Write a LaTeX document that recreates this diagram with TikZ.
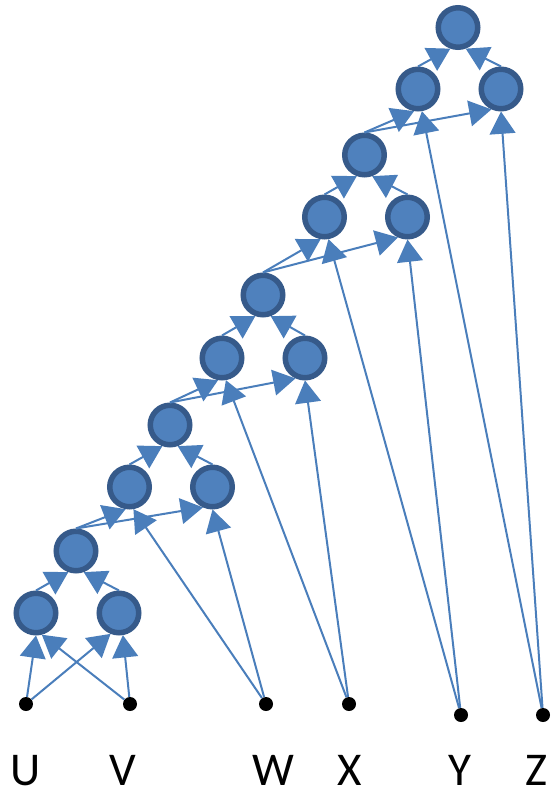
\documentclass[tikz,border=0pt]{standalone}
\usepackage{fontspec}
\setmainfont{Carlito}
\usepackage{xcolor}
\usepackage{tikz}
\usetikzlibrary{arrows.meta, positioning}

\definecolor{nodefill}{RGB}{79,129,189}
\definecolor{noderim}{RGB}{54,90,138}
\definecolor{edgeblue}{RGB}{74,126,187}

\begin{document}
\begin{tikzpicture}[
    x=1pt, y=-1pt,
    % ── Tree node: blue disc with a dark rim ─────────────────────────
    unit/.style={
        circle, draw=noderim, fill=nodefill,
        line width=5.5pt, minimum size=39.5pt, inner sep=0pt
    },
    % ── Input point: small black dot ─────────────────────────────────
    inpt/.style={circle, fill=black, minimum size=14pt, inner sep=0pt},
    % ── Input letters ────────────────────────────────────────────────
    letter/.style={anchor=base, inner sep=0pt,
                   font=\fontsize{47}{56}\selectfont},
    % ── Arrows: thin blue, filled triangle tip ───────────────────────
    link/.style={line width=2pt, draw=edgeblue,
                 -{Triangle[scale=2.6]}}
]
    \useasboundingbox (0,0) rectangle (550,794);

% ══════════════════════════════════════════════════════════════════════
% NODE PLACEMENT
% ══════════════════════════════════════════════════════════════════════

    % ── Inputs ──────────────────────────────────────────────────
    \node[inpt] (u) at (26,704) {};
    \node[inpt] (v) at (130,704) {};
    \node[inpt] (w) at (266,704) {};
    \node[inpt] (x) at (349,704) {};
    \node[inpt] (y) at (461,715) {};
    \node[inpt] (z) at (543,715) {};

    \node[letter] (lu) at (26,785)  {U};
    \node[letter] (lv) at (123,785) {V};
    \node[letter] (lw) at (273,785) {W};
    \node[letter] (lx) at (350,785) {X};
    \node[letter] (ly) at (460,785) {Y};
    \node[letter] (lz) at (536,785) {Z};

    % ── Group 1 ──
    \node[unit] (l1) at (36,613)    {};
    \node[unit] (r1) at (119,613)   {};
    \node[unit] (t1) at (76,551)    {};

    % ── Group 2 ──
    \node[unit] (l2) at (129.5,487) {};
    \node[unit] (r2) at (212.5,487) {};
    \node[unit] (t2) at (170,425)   {};

    % ── Group 3 ──
    \node[unit] (l3) at (222,358)   {};
    \node[unit] (r3) at (305,358)   {};
    \node[unit] (t3) at (263,295)   {};

    % ── Group 4 ──
    \node[unit] (l4) at (324.5,217) {};
    \node[unit] (r4) at (407.5,217) {};
    \node[unit] (t4) at (364.5,155) {};

    % ── Group 5 ──
    \node[unit] (l5) at (418,89)    {};
    \node[unit] (r5) at (501,89)    {};
    \node[unit] (t5) at (458,27.5)  {};

% ══════════════════════════════════════════════════════════════════════
% CONNECTIONS
% ══════════════════════════════════════════════════════════════════════

    % ── Group 1 ──
    \draw[link] (u) -- (l1.south);
    \draw[link] (v) -- (l1.-75);
    \draw[link] (u) -- (r1.-112);
    \draw[link] (v) -- (r1.-80);
    \draw[link] (l1.north) -- (t1.-110);
    \draw[link] (r1.north) -- (t1.-70);

    % ── Group 2 ──
    \draw[link] (t1.north) -- (l2.-100);
    \draw[link] (t1.north) -- (r2.-115);
    \draw[link] (w) -- (l2.-80);
    \draw[link] (w) -- (r2.south);
    \draw[link] (l2.north) -- (t2.-110);
    \draw[link] (r2.north) -- (t2.-70);

    % ── Group 3 ──
    \draw[link] (t2.north) -- (l3.-100);
    \draw[link] (t2.north) -- (r3.-115);
    \draw[link] (x) -- (l3.-80);
    \draw[link] (x) -- (r3.south);
    \draw[link] (l3.north) -- (t3.-110);
    \draw[link] (r3.north) -- (t3.-70);

    % ── Group 4 ──
    \draw[link] (t3.north) -- (l4.-100);
    \draw[link] (t3.north) -- (r4.-115);
    \draw[link] (y) -- (l4.-80);
    \draw[link] (y) -- (r4.south);
    \draw[link] (l4.north) -- (t4.-110);
    \draw[link] (r4.north) -- (t4.-70);

    % ── Group 5 ──
    \draw[link] (t4.north) -- (l5.-100);
    \draw[link] (t4.north) -- (r5.-115);
    \draw[link] (z) -- (l5.-80);
    \draw[link] (z) -- (r5.south);
    \draw[link] (l5.north) -- (t5.-110);
    \draw[link] (r5.north) -- (t5.-70);

\end{tikzpicture}
\end{document}
